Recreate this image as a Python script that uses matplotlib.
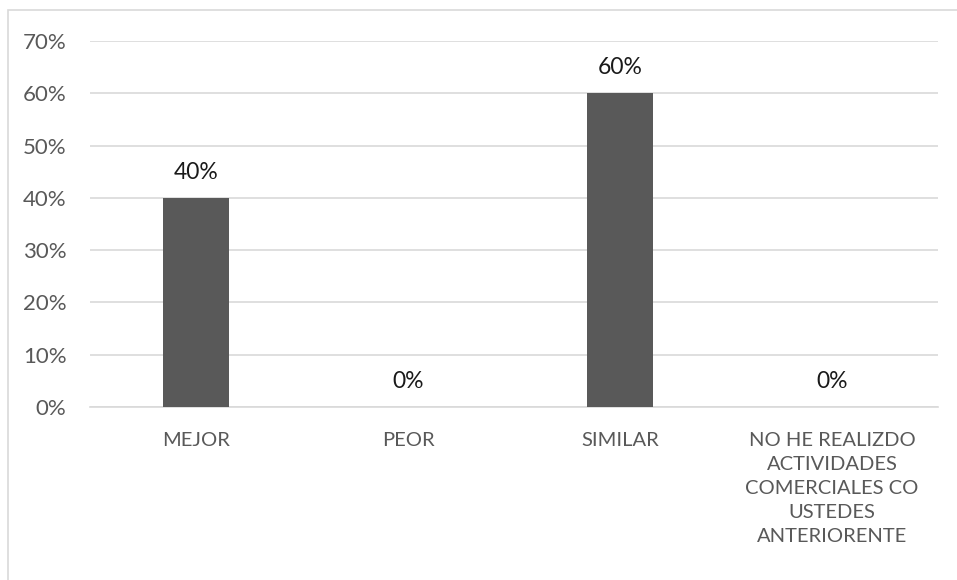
import matplotlib.pyplot as plt
from matplotlib.patches import Rectangle
from matplotlib.ticker import FuncFormatter

categories = ["MEJOR", "PEOR", "SIMILAR",
              "NO HE REALIZDO\nACTIVIDADES\nCOMERCIALES CO\nUSTEDES\nANTERIORENTE"]
values = [0.40, 0.0, 0.60, 0.0]
yticks = [0, 0.1, 0.2, 0.3, 0.4, 0.5, 0.6, 0.7]

plt.rcParams['font.family'] = ['Lato', 'DejaVu Sans']

W, H = 957, 580
fig = plt.figure(figsize=(W / 100, H / 100), dpi=100)
ax = fig.add_axes([90 / W, 1 - 407 / H, (938 - 90) / W, (407 - 41) / H])

# outer chart border
fig.patches.append(Rectangle((8 / W, -0.05), 1.1, 1.05 - 10 / H, transform=fig.transFigure,
                             fill=False, edgecolor="#d9d9d9", linewidth=1.2))

x = range(len(categories))
ax.bar(x, values, width=0.31, color="#595959", zorder=3)
for xi, v in zip(x, values):
    ax.annotate("{:.0f}%".format(v * 100), (xi, v), xytext=(0, 11), textcoords="offset points",
                ha="center", va="bottom", fontsize=16.5, color="#1a1a1a")

ax.set_xlim(-0.5, len(categories) - 0.5)
ax.set_ylim(0, 0.7)
ax.set_yticks(yticks)
ax.yaxis.set_major_formatter(FuncFormatter(lambda v, p: "{:.0f}%".format(v * 100)))
ax.set_xticks(list(x))
ax.set_xticklabels(categories, linespacing=1.5)
ax.tick_params(axis="y", length=0, pad=17, labelsize=16, labelcolor="#595959")
ax.tick_params(axis="x", length=0, pad=18, labelsize=14.5, labelcolor="#595959")
ax.grid(axis="y", color="#d9d9d9", linewidth=1.2, zorder=0)
for s in ["top", "right", "left"]:
    ax.spines[s].set_visible(False)
ax.spines["bottom"].set_color("#d9d9d9")
ax.spines["bottom"].set_linewidth(1.2)

fig.savefig("out.png", dpi=100)
